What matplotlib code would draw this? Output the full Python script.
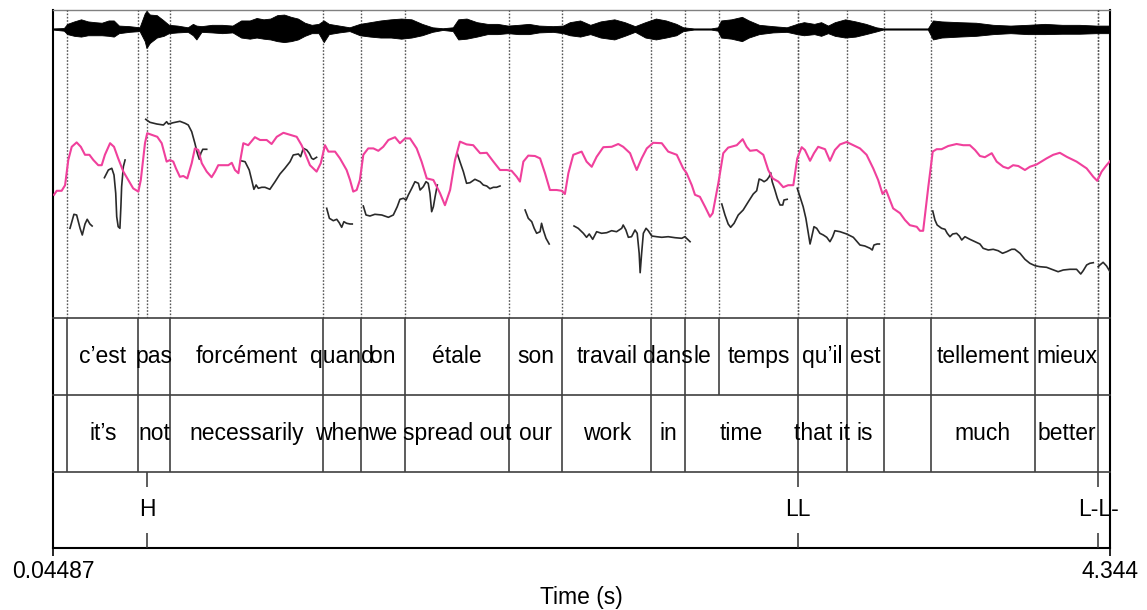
import matplotlib.pyplot as plt

plt.rcParams['font.family'] = ['Liberation Sans', 'DejaVu Sans']

t_start = 0.04487
t_end = 4.344

# waveform envelope, normalised amplitude
wave_t = [0.0449, 0.089, 0.103, 0.131, 0.159, 0.187, 0.215, 0.243, 0.271, 0.292,
          0.313, 0.355, 0.397, 0.418, 0.425, 0.439, 0.467, 0.495, 0.516, 0.551,
          0.593, 0.614, 0.628, 0.649, 0.691, 0.733, 0.775, 0.810, 0.845, 0.873,
          0.901, 0.929, 0.957, 0.985, 1.013, 1.041, 1.069, 1.097, 1.125, 1.146,
          1.167, 1.209, 1.251, 1.293, 1.335, 1.377, 1.419, 1.461, 1.503, 1.546,
          1.588, 1.630, 1.671, 1.693, 1.727, 1.769, 1.812, 1.853, 1.895, 1.938,
          1.980, 2.022, 2.078, 2.119, 2.147, 2.189, 2.230, 2.272, 2.328, 2.370,
          2.412, 2.454, 2.497, 2.538, 2.580, 2.608, 2.651, 2.721, 2.749, 2.762,
          2.804, 2.847, 2.875, 2.917, 2.973, 3.029, 3.071, 3.099, 3.141, 3.169,
          3.197, 3.225, 3.267, 3.309, 3.351, 3.393, 3.421, 3.603, 3.624, 3.659,
          3.729, 3.799, 3.869, 3.939, 4.009, 4.079, 4.149, 4.219, 4.289, 4.344]
wave_hi = [0.03, 0.05, 0.27, 0.40, 0.51, 0.40, 0.36, 0.33, 0.45, 0.45,
           0.18, 0.15, 0.09, 0.82, 0.95, 0.76, 0.73, 0.45, 0.22, 0.18,
           0.09, 0.27, 0.18, 0.15, 0.22, 0.22, 0.18, 0.45, 0.45, 0.58,
           0.51, 0.55, 0.73, 0.76, 0.64, 0.55, 0.33, 0.22, 0.27, 0.45,
           0.27, 0.18, 0.09, 0.27, 0.36, 0.45, 0.51, 0.55, 0.51, 0.27,
           0.09, 0.04, 0.09, 0.51, 0.55, 0.36, 0.27, 0.27, 0.18, 0.22,
           0.27, 0.18, 0.15, 0.18, 0.36, 0.45, 0.22, 0.40, 0.51, 0.36,
           0.15, 0.36, 0.55, 0.45, 0.27, 0.09, 0.03, 0.03, 0.09, 0.45,
           0.51, 0.64, 0.45, 0.22, 0.15, 0.09, 0.27, 0.36, 0.27, 0.36,
           0.18, 0.36, 0.51, 0.40, 0.27, 0.09, 0.03, 0.03, 0.45, 0.40,
           0.36, 0.33, 0.22, 0.18, 0.22, 0.27, 0.22, 0.22, 0.18, 0.18]
wave_lo = [-0.03, -0.09, -0.27, -0.36, -0.40, -0.33, -0.33, -0.33, -0.36, -0.40,
           -0.22, -0.15, -0.11, -0.64, -1.00, -0.73, -0.45, -0.36, -0.22, -0.18,
           -0.15, -0.33, -0.55, -0.15, -0.18, -0.22, -0.18, -0.45, -0.51, -0.45,
           -0.51, -0.55, -0.64, -0.69, -0.64, -0.55, -0.36, -0.22, -0.22, -0.69,
           -0.27, -0.18, -0.11, -0.33, -0.40, -0.45, -0.45, -0.51, -0.45, -0.33,
           -0.15, -0.05, -0.11, -0.55, -0.51, -0.40, -0.27, -0.27, -0.22, -0.27,
           -0.27, -0.18, -0.15, -0.22, -0.33, -0.40, -0.27, -0.45, -0.55, -0.36,
           -0.15, -0.45, -0.55, -0.45, -0.33, -0.11, -0.03, -0.03, -0.09, -0.45,
           -0.51, -0.64, -0.45, -0.27, -0.18, -0.15, -0.27, -0.33, -0.27, -0.36,
           -0.22, -0.36, -0.45, -0.40, -0.27, -0.13, -0.03, -0.03, -0.55, -0.45,
           -0.40, -0.36, -0.27, -0.22, -0.27, -0.27, -0.25, -0.25, -0.22, -0.22]

# intensity (dB)
int_t = [0.049, 0.060, 0.080, 0.094, 0.107, 0.121, 0.141, 0.158, 0.175, 0.193,
         0.209, 0.229, 0.243, 0.256, 0.277, 0.293, 0.310, 0.331, 0.351, 0.371,
         0.392, 0.402, 0.419, 0.428, 0.446, 0.469, 0.487, 0.507, 0.521, 0.534,
         0.545, 0.561, 0.575, 0.591, 0.609, 0.622, 0.636, 0.650, 0.670, 0.690,
         0.704, 0.717, 0.738, 0.758, 0.772, 0.785, 0.799, 0.808, 0.819, 0.839,
         0.866, 0.887, 0.914, 0.934, 0.955, 0.982, 1.009, 1.036, 1.056, 1.070,
         1.090, 1.117, 1.134, 1.151, 1.165, 1.192, 1.212, 1.239, 1.253, 1.266,
         1.280, 1.293, 1.307, 1.327, 1.348, 1.368, 1.388, 1.409, 1.436, 1.456,
         1.477, 1.497, 1.524, 1.544, 1.565, 1.592, 1.619, 1.639, 1.660, 1.680,
         1.700, 1.727, 1.754, 1.782, 1.809, 1.836, 1.863, 1.890, 1.910, 1.931,
         1.944, 1.958, 1.978, 2.005, 2.026, 2.046, 2.066, 2.093, 2.114, 2.127,
         2.141, 2.161, 2.195, 2.215, 2.236, 2.256, 2.283, 2.317, 2.344, 2.364,
         2.392, 2.405, 2.419, 2.439, 2.460, 2.486, 2.521, 2.547, 2.582, 2.608,
         2.622, 2.643, 2.656, 2.676, 2.697, 2.717, 2.728, 2.751, 2.771, 2.791,
         2.826, 2.850, 2.866, 2.880, 2.907, 2.934, 2.954, 2.972, 2.995, 3.015,
         3.035, 3.056, 3.072, 3.090, 3.103, 3.124, 3.140, 3.157, 3.185, 3.205,
         3.225, 3.246, 3.273, 3.300, 3.327, 3.354, 3.381, 3.401, 3.419, 3.433,
         3.449, 3.462, 3.490, 3.510, 3.530, 3.558, 3.571, 3.584, 3.605, 3.623,
         3.639, 3.659, 3.686, 3.720, 3.747, 3.774, 3.795, 3.815, 3.835, 3.863,
         3.883, 3.910, 3.930, 3.950, 3.971, 3.998, 4.018, 4.046, 4.086, 4.113,
         4.140, 4.168, 4.208, 4.249, 4.276, 4.292, 4.310, 4.330, 4.344]
int_db = [60.8, 61.8, 61.8, 63.2, 69.5, 72.8, 73.9, 72.8, 70.8, 70.8,
          69.5, 68.2, 68.2, 70.8, 73.7, 72.8, 69.9, 66.6, 64.5, 62.4,
          61.6, 64.5, 73.7, 76.2, 75.8, 75.3, 73.7, 69.1, 69.5, 69.1,
          67.4, 65.3, 65.5, 64.9, 68.7, 72.4, 72.0, 68.7, 66.6, 65.2,
          66.6, 68.2, 68.2, 68.2, 68.8, 67.0, 66.2, 69.9, 73.7, 73.2,
          75.2, 74.5, 74.5, 73.5, 75.3, 76.3, 75.8, 75.3, 73.2, 71.2,
          68.2, 66.6, 68.7, 73.2, 71.6, 71.6, 69.9, 67.0, 64.5, 61.6,
          62.0, 64.5, 70.8, 72.4, 72.4, 71.8, 72.8, 74.5, 75.2, 73.7,
          74.9, 74.9, 72.4, 69.1, 64.9, 64.5, 61.2, 58.2, 62.0, 69.5,
          74.1, 73.4, 73.2, 71.2, 71.3, 69.1, 67.0, 67.0, 66.8, 65.3,
          64.1, 69.1, 70.6, 70.5, 69.9, 66.2, 62.0, 62.0, 61.8, 61.0,
          66.2, 70.8, 71.6, 69.1, 67.8, 70.3, 72.7, 72.8, 73.5, 72.8,
          71.2, 69.1, 67.0, 69.9, 72.4, 73.8, 73.7, 71.6, 70.8, 67.4,
          66.2, 63.2, 60.8, 60.3, 57.8, 55.3, 56.2, 63.7, 71.2, 72.6,
          73.2, 74.7, 72.8, 71.8, 72.0, 70.8, 67.0, 64.9, 64.1, 62.7,
          63.2, 63.2, 69.9, 72.7, 72.0, 69.3, 71.2, 72.8, 72.2, 69.3,
          72.0, 73.4, 74.0, 73.2, 72.4, 70.8, 67.4, 64.5, 61.0, 62.0,
          59.5, 57.4, 56.2, 54.5, 53.2, 52.8, 51.8, 51.8, 62.8, 71.6,
          72.2, 72.2, 73.0, 73.5, 73.2, 73.2, 72.0, 70.5, 70.2, 71.2,
          69.1, 67.8, 67.4, 68.2, 68.0, 67.0, 67.8, 68.4, 69.9, 70.8,
          71.3, 70.3, 69.1, 67.4, 65.3, 64.3, 66.6, 68.2, 69.2]

# pitch (Hz), one list per voiced stretch
pitch_t = [
    [0.114, 0.130, 0.141, 0.155, 0.164, 0.175, 0.184, 0.195, 0.204],
    [0.254, 0.270, 0.284, 0.293, 0.300, 0.304, 0.310, 0.317, 0.321, 0.324, 0.331, 0.338],
    [0.422, 0.439, 0.467, 0.494, 0.507, 0.514, 0.534, 0.561, 0.582, 0.595, 0.609, 0.622,
     0.632, 0.640, 0.646, 0.654, 0.670],
    [0.808, 0.826, 0.843, 0.853, 0.862, 0.871, 0.880, 0.894, 0.907, 0.927, 0.948, 0.968,
     0.988, 1.009, 1.022, 1.043, 1.052, 1.063, 1.077, 1.087, 1.097, 1.104, 1.117],
    [1.158, 1.169, 1.185, 1.199, 1.209, 1.219, 1.228, 1.239, 1.253, 1.262],
    [1.307, 1.318, 1.334, 1.354, 1.382, 1.409, 1.429, 1.445, 1.456, 1.470, 1.481, 1.490,
     1.504, 1.517, 1.531, 1.538, 1.551, 1.562, 1.571, 1.578, 1.585, 1.592, 1.599, 1.608],
    [1.689, 1.700, 1.714, 1.727, 1.741, 1.761, 1.782, 1.795, 1.809, 1.822, 1.836, 1.849, 1.863],
    [1.965, 1.978, 1.992, 2.002, 2.012, 2.026, 2.032, 2.039, 2.050, 2.063],
    [2.164, 2.181, 2.202, 2.215, 2.226, 2.240, 2.256, 2.276, 2.297, 2.317, 2.337, 2.358,
     2.364, 2.375, 2.385, 2.398, 2.412, 2.421, 2.429, 2.433, 2.439, 2.446, 2.457, 2.466,
     2.480, 2.500, 2.521, 2.547, 2.575, 2.602, 2.615, 2.636],
    [2.765, 2.778, 2.791, 2.801, 2.815, 2.832, 2.852, 2.873, 2.893, 2.907, 2.917, 2.927,
     2.937, 2.948, 2.958, 2.964, 2.970, 2.981, 2.991, 3.002, 3.013, 3.018, 3.031],
    [3.072, 3.083, 3.096, 3.107, 3.117, 3.124, 3.131, 3.140, 3.151, 3.164, 3.178, 3.192,
     3.205, 3.216, 3.225, 3.246, 3.273, 3.300, 3.327, 3.347, 3.368, 3.377, 3.384, 3.397, 3.406],
    [3.623, 3.632, 3.641, 3.659, 3.673, 3.682, 3.693, 3.704, 3.720, 3.731, 3.741, 3.754,
     3.774, 3.795, 3.815, 3.828, 3.849, 3.869, 3.889, 3.907, 3.924, 3.944, 3.957, 3.978,
     3.998, 4.018, 4.039, 4.059, 4.086, 4.107, 4.133, 4.154, 4.181, 4.208, 4.225, 4.235,
     4.249, 4.262, 4.276],
    [4.296, 4.303, 4.316, 4.330, 4.344],
]
pitch_hz = [
    [189.7, 203.7, 203.0, 189.7, 183.0, 194.0, 198.7, 194.0, 192.0],
    [240.3, 248.0, 249.7, 243.0, 224.7, 201.3, 191.3, 189.7, 211.3, 231.3, 251.3, 258.0],
    [298.7, 295.7, 294.0, 293.0, 296.3, 294.0, 295.3, 296.7, 294.7, 293.0, 286.3, 274.7,
     264.7, 258.7, 264.7, 268.7, 268.7],
    [257.3, 256.3, 248.0, 238.0, 228.7, 233.0, 229.7, 230.7, 230.7, 228.7, 236.3, 244.0,
     249.7, 256.3, 263.0, 264.0, 261.3, 269.7, 268.0, 264.7, 259.7, 258.7, 260.7],
    [209.7, 199.7, 197.3, 198.7, 195.3, 190.7, 196.3, 194.7, 194.0, 194.0],
    [212.0, 203.0, 202.0, 203.7, 203.0, 200.7, 203.0, 211.3, 218.7, 219.7, 218.0, 223.0,
     229.7, 236.3, 234.7, 228.0, 231.3, 236.3, 234.7, 224.7, 206.3, 211.3, 221.3, 233.0],
    [264.7, 256.3, 246.3, 234.7, 235.3, 238.7, 236.3, 233.0, 232.0, 229.3, 230.7, 230.7, 232.0],
    [208.0, 199.7, 196.3, 189.7, 184.7, 186.3, 194.7, 188.0, 179.7, 174.0],
    [192.0, 189.7, 184.7, 180.7, 184.0, 178.7, 186.3, 184.7, 185.3, 187.3, 186.3, 189.7,
     193.0, 188.0, 180.7, 181.3, 188.0, 184.7, 164.7, 145.3, 164.7, 184.7, 189.7, 187.3,
     182.0, 181.3, 180.7, 181.3, 180.3, 179.7, 181.3, 176.3],
    [214.0, 203.0, 194.0, 190.7, 194.7, 203.0, 208.0, 216.3, 224.0, 227.3, 239.0, 238.0,
     236.3, 238.0, 241.3, 245.3, 236.3, 228.0, 219.7, 213.0, 213.0, 218.0, 218.7],
    [229.7, 221.3, 211.3, 199.7, 184.7, 174.0, 181.3, 191.3, 189.7, 184.7, 183.0, 180.7,
     176.3, 181.3, 187.3, 186.3, 184.0, 180.7, 173.0, 172.0, 169.7, 168.0, 173.0, 174.0, 174.0],
    [207.0, 198.0, 193.0, 189.7, 188.7, 184.7, 181.3, 184.0, 184.7, 182.0, 178.0, 181.3,
     178.7, 176.3, 174.0, 169.7, 168.0, 168.7, 167.3, 164.7, 166.3, 168.7, 168.7, 164.7,
     158.7, 154.7, 152.3, 151.3, 150.7, 148.7, 146.3, 148.0, 148.7, 148.7, 144.0, 147.3,
     153.0, 154.7, 155.3],
    [151.3, 153.0, 155.7, 152.0, 146.3],
]

# text tiers
fr_bounds = [t_start, 0.103, 0.392, 0.522, 1.144, 1.298, 1.477, 1.899, 2.116, 2.478,
             2.616, 2.754, 3.074, 3.273, 3.423, 3.614, 4.038, 4.297, t_end]
fr_words = ["", "c\u2019est", "pas", "forcément", "quand", "on", "étale", "son", "travail",
            "dans", "le", "temps", "qu\u2019il", "est", "", "tellement", "mieux", ""]
en_bounds = [t_start, 0.103, 0.392, 0.522, 1.144, 1.298, 1.477, 1.899, 2.116, 2.478,
             2.616, 3.074, 3.273, 3.423, 3.614, 4.038, 4.297, t_end]
en_words = ["", "it\u2019s", "not", "necessarily", "when", "we", "spread out", "our", "work",
            "in", "time", "that it", "is", "", "much", "better", ""]
tone_t = [0.428, 3.074, 4.297]
tone_labels = ["H", "LL", "L-L-"]

W, H = 1147, 610
def box(x0, y0, x1, y1):
    return [x0 / W, 1 - y1 / H, (x1 - x0) / W, (y1 - y0) / H]

fs = 16.5
fig = plt.figure(figsize=(W / 100, H / 100), dpi=100)

# outer frame with time axis
ax_frame = fig.add_axes(box(53, 10, 1110, 548))
ax_frame.set_xlim(t_start, t_end)
ax_frame.set_ylim(0, 1)
ax_frame.set_yticks([])
ax_frame.set_xticks([t_start, t_end])
ax_frame.set_xticklabels(["0.04487", "4.344"], fontsize=fs)
ax_frame.tick_params(axis='x', length=6, width=1.2, pad=3)
ax_frame.set_xlabel("Time (s)", fontsize=fs, labelpad=2)
for s in ['left', 'right', 'bottom']:
    ax_frame.spines[s].set_linewidth(1.5)
ax_frame.spines['top'].set_linewidth(1.0)
ax_frame.spines['top'].set_color('#808080')

# pitch and intensity area
ax_p = fig.add_axes(box(53, 10, 1110, 318))
ax_p.set_xlim(t_start, t_end)
ax_p.set_ylim(100, 408)
ax_p.axis('off')
dotted = [b for b in fr_bounds[1:-1]] + tone_t
ax_p.vlines(dotted, 100, 408, colors='#555555', linestyles=(0, (1.2, 1.2)), linewidth=1.0)
for ts, hz in zip(pitch_t, pitch_hz):
    ax_p.plot(ts, hz, color='#2a2a2a', linewidth=1.2)

ax_i = ax_p.twinx()
ax_i.set_xlim(t_start, t_end)
ax_i.set_ylim(30, 107)
ax_i.axis('off')
ax_i.plot(int_t, int_db, color='#f0409c', linewidth=1.5)

# waveform
ax_w = fig.add_axes(box(53, 10, 1110, 48))
ax_w.set_xlim(t_start, t_end)
ax_w.set_ylim(-1, 1)
ax_w.axis('off')
ax_w.fill_between(wave_t, wave_lo, wave_hi, color='black', linewidth=0.6)
ax_w.axhline(0, color='black', linewidth=0.8)

# interval tiers
def interval_tier(rect, bounds, words):
    ax = fig.add_axes(rect)
    ax.set_xlim(t_start, t_end)
    ax.set_ylim(0, 1)
    ax.set_xticks([])
    ax.set_yticks([])
    for s in ['left', 'right', 'bottom']:
        ax.spines[s].set_visible(False)
    ax.spines['top'].set_color('#404040')
    ax.spines['top'].set_linewidth(1.2)
    ax.patch.set_alpha(0)
    ax.vlines(bounds[1:-1], 0, 1, colors='#303030', linewidth=1.1)
    for a, b, w in zip(bounds[:-1], bounds[1:], words):
        if w:
            ax.text((a + b) / 2, 0.5, w, ha='center', va='center', fontsize=fs)
    return ax

interval_tier(box(53, 318, 1110, 395), fr_bounds, fr_words)
interval_tier(box(53, 395, 1110, 472), en_bounds, en_words)

# point tier
ax_t = fig.add_axes(box(53, 472, 1110, 548))
ax_t.set_xlim(t_start, t_end)
ax_t.set_ylim(0, 1)
ax_t.set_xticks([])
ax_t.set_yticks([])
for s in ['left', 'right', 'bottom']:
    ax_t.spines[s].set_visible(False)
ax_t.spines['top'].set_color('#404040')
ax_t.spines['top'].set_linewidth(1.2)
ax_t.patch.set_alpha(0)
ax_t.vlines(tone_t, 0.8, 1, colors='#303030', linewidth=1.1)
ax_t.vlines(tone_t, 0, 0.2, colors='#303030', linewidth=1.1)
for tt, lab in zip(tone_t, tone_labels):
    ax_t.text(tt, 0.5, lab, ha='center', va='center', fontsize=fs)

fig.savefig('out.png', dpi=100)
